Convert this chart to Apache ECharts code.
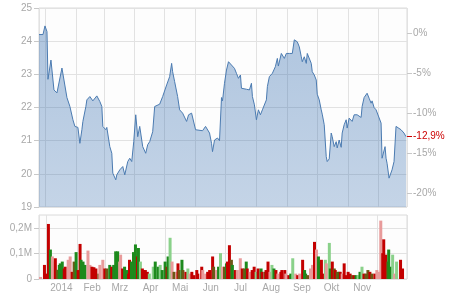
<!DOCTYPE html>
<html>
<head>
<meta charset="utf-8">
<script src="https://cdn.jsdelivr.net/npm/echarts@6/dist/echarts.min.js"></script>
<style>
html,body{margin:0;padding:0;background:#fff;}
#c{width:450px;height:300px;}
</style>
</head>
<body>
<div id="c"></div>
<script>
// ---- data ----
// day offsets from 2014-01-01 and closing prices
const priceDays = [-6,-2,0,2,3,6,9,12,17,18,22,25,28,30,33,35,37,38,41,42,45,48,52,55,57,58,61,62,65,67,68,71,72,75,78,80,83,85,87,89,91,93,95,97,98,101,103,105,108,110,112,115,118,122,125,127,128,130,133,135,138,142,144,147,148,151,153,158,161,163,165,167,168,170,172,173,175,177,178,180,182,184,187,190,192,194,196,197,199,202,203,205,207,208,210,212,214,216,218,222,223,225,228,231,233,234,237,240,242,245,247,248,250,252,253,255,257,258,260,262,263,265,267,268,270,272,273,275,277,278,280,282,283,285,287,288,290,292,293,295,297,298,300,302,303,305,307,308,310,312,313,315,317,318,320,323,325,327,328,330,332,334,337,338,339,341,342,343,345,348,350,352,353,357,360,362];
const priceValues = [24.2,24.2,24.46,24.29,22.85,23.43,22.53,22.44,23.19,23.15,22.3,22.03,21.63,21.43,21.4,20.92,21.33,21.58,22.03,22.23,22.33,22.2,22.35,22.18,22.03,21.43,21.33,21.4,20.82,20.62,20.02,19.82,19.97,20.12,20.22,19.97,20.37,20.47,20.37,20.97,21.78,21.12,21.43,21.4,20.82,20.62,20.88,20.97,21.27,22.03,22.08,22.1,22.33,22.68,22.93,23.33,23.08,22.78,22.33,21.93,21.83,21.58,21.78,21.83,21.85,21.33,21.27,21.3,21.43,21.38,21.23,20.92,20.67,21.02,20.98,21.08,21.0,22.3,22.2,22.73,23.13,23.38,23.28,23.18,23.03,22.88,22.98,22.58,22.63,22.55,22.6,22.53,22.73,22.33,22.08,21.63,21.93,21.78,21.93,22.23,22.63,22.93,23.03,23.23,23.48,23.25,23.63,23.48,23.63,23.63,23.68,23.63,24.04,23.98,23.98,23.83,23.53,23.38,23.53,23.33,23.63,23.58,23.33,23.08,22.98,22.83,22.4,22.23,21.93,21.8,21.48,20.52,20.37,20.45,21.23,21.12,20.82,20.97,20.78,21.02,20.8,21.23,21.48,21.63,21.38,21.68,21.73,21.58,21.78,21.75,21.78,21.73,21.7,22.03,22.3,22.43,22.28,22.13,22.2,22.0,21.93,21.88,21.53,20.47,20.5,20.82,20.47,20.32,19.87,20.12,20.37,21.43,21.43,21.33,21.23,21.12];
const basePrice = 24.25; // reference price for 0%

// volume: day offsets, volume in thousand pieces, kind (d=down, g=up, p=down alt, l=up alt, b=mixed)
const volDays = [-6,-2,0,2,4,6,8,9,11,13,14,16,18,19,22,24,26,28,30,32,34,35,37,39,42,44,46,48,50,53,54,57,59,61,64,66,68,70,72,74,75,77,79,81,83,84,86,88,90,92,93,95,97,98,100,102,104,108,110,113,115,117,120,122,123,125,127,129,132,133,134,137,138,141,143,145,147,149,152,153,157,158,161,163,165,168,169,172,174,176,178,180,182,183,185,187,188,191,193,196,198,200,202,203,206,208,210,212,214,217,218,221,222,224,226,228,230,232,234,237,238,241,242,245,247,249,252,254,256,259,261,262,264,267,269,271,273,275,277,278,280,282,283,286,287,289,291,292,294,296,297,299,301,303,305,307,309,311,313,315,317,319,321,323,325,327,329,332,334,336,338,340,341,343,345,346,348,350,352,354,358,360];
const volValues = [8,55,21,215,115,88,68,81,36,55,61,68,41,48,75,88,28,68,105,35,137,75,68,55,111,55,48,46,41,21,55,75,41,41,55,48,55,108,108,68,95,41,48,35,21,75,68,105,135,88,121,68,41,35,35,28,21,48,68,48,55,35,68,48,88,161,68,28,28,61,35,75,35,28,41,21,28,15,35,21,48,35,21,28,35,88,48,35,48,101,48,48,61,68,132,75,55,35,35,81,41,41,68,41,28,35,48,28,41,41,28,28,35,68,28,55,41,35,21,28,35,35,21,15,21,81,21,15,21,75,35,21,15,41,55,145,115,88,68,75,21,75,61,141,41,68,41,35,28,28,28,21,61,15,28,21,15,15,15,15,28,48,21,21,35,28,21,21,35,28,228,101,155,95,68,115,48,95,21,68,75,41];
const volKinds = ['p','d','d','d','g','p','p','d','b','g','g','g','d','d','p','p','d','b','g','d','d','g','g','g','p','p','d','d','d','b','p','p','d','b','g','d','g','g','g','p','p','d','g','g','d','d','g','g','g','d','g','l','d','d','d','d','l','l','g','g','l','g','g','d','g','l','p','b','p','d','b','g','b','d','l','p','d','d','d','d','d','p','p','d','d','d','b','p','g','l','p','b','g','d','d','b','g','d','p','p','d','b','g','d','p','d','d','l','d','g','d','b','d','d','p','l','g','d','p','d','d','d','p','d','g','l','p','d','p','d','g','g','b','p','p','d','p','g','g','d','d','l','p','l','g','d','b','d','b','g','d','p','d','d','d','d','b','d','g','l','g','l','d','b','b','d','b','d','p','p','p','d','d','d','b','g','g','l','p','l','d','d'];

// axis labels
const monthLabels = ['2014','Feb','Mrz','Apr','Mai','Jun','Jul','Aug','Sep','Okt','Nov',''];
const priceTicks = [19,20,21,22,23,24,25];
const pctTicks = [-20,-15,-10,-5,0];
const volTicks = [0,0.1,0.2];
const volMax = 0.25;

// ---- build ----
const DAY = 86400000;
const ts = d => new Date(2014, 0, 1 + d).getTime();
const minTs = new Date(2013, 11, 26).getTime();
const maxTs = new Date(2014, 11, 30).getTime();
const pct = v => (v / basePrice - 1) * 100;
const lastPct = pct(priceValues[priceValues.length - 1]);
const kindColors = {d:'#c30000', g:'#1d8a1d', p:'#e89b9b', l:'#8ad18a', b:'#6d5816'};

const priceData = priceDays.map((d, i) => [ts(d), priceValues[i]]);
const volData = volDays.map((d, i) => ({
  value: [ts(d), volValues[i] / 1000],
  itemStyle: {color: kindColors[volKinds[i]]}
}));

const FONT = 'Liberation Sans';
const GRAY = '#a8a8a8';
const GRID = '#e2e2e2';

function xAxis(gridIndex, showLabels) {
  return {
    type: 'time', gridIndex, min: minTs, max: maxTs,
    minInterval: 28 * DAY, maxInterval: 31 * DAY, splitNumber: 12,
    axisLine: {show: false}, axisTick: {show: false},
    splitLine: {show: true, lineStyle: {color: GRID, width: 1}},
    axisLabel: {
      show: showLabels, color: GRAY, fontFamily: FONT, fontSize: 10,
      margin: 4, padding: [0, 0, 0, 30], showMinLabel: false, showMaxLabel: false,
      formatter: v => { const d = new Date(v); return d.getDate() === 1 ? monthLabels[d.getMonth()] : ''; }
    }
  };
}

const chart = echarts.init(document.getElementById('c'), null, {renderer: 'canvas'});
chart.setOption({
  animation: false,
  backgroundColor: '#fff',
  grid: [
    {left: 39, right: 43, top: 8, height: 199, show: true, borderColor: '#dadada', borderWidth: 1, backgroundColor: '#fdfdfd'},
    {left: 39, right: 43, top: 215, height: 64, show: true, borderColor: '#dadada', borderWidth: 1, backgroundColor: '#fdfdfd'}
  ],
  xAxis: [xAxis(0, false), xAxis(1, true)],
  yAxis: [
    {
      type: 'value', gridIndex: 0, min: priceTicks[0], max: priceTicks[priceTicks.length - 1], interval: 1,
      position: 'left',
      axisLine: {show: false},
      axisTick: {show: true, length: 5, lineStyle: {color: '#c8c8c8'}},
      axisLabel: {color: GRAY, fontFamily: FONT, fontSize: 10, margin: 7},
      splitLine: {lineStyle: {color: GRID}}
    },
    {
      type: 'value', gridIndex: 0, min: pct(priceTicks[0]), max: pct(priceTicks[priceTicks.length - 1]),
      position: 'right',
      axisLine: {show: false},
      axisTick: {show: true, length: 5, customValues: pctTicks, lineStyle: {color: '#c8c8c8'}},
      axisLabel: {color: GRAY, fontFamily: FONT, fontSize: 10, margin: 6, customValues: pctTicks,
        formatter: v => Math.round(v) + '%'},
      splitLine: {show: false}
    },
    {
      type: 'value', gridIndex: 0, min: pct(priceTicks[0]), max: pct(priceTicks[priceTicks.length - 1]),
      position: 'right',
      axisLine: {show: false},
      axisTick: {show: true, length: 5, customValues: [lastPct], lineStyle: {color: '#cc0000'}},
      axisLabel: {color: '#cc0000', fontFamily: FONT, fontSize: 10, margin: 6, customValues: [lastPct],
        formatter: v => v.toFixed(1).replace('.', ',') + '%'},
      splitLine: {show: false}
    },
    {
      type: 'value', gridIndex: 1, min: 0, max: volMax, interval: 0.1,
      axisLine: {show: false},
      axisTick: {show: true, length: 5, customValues: volTicks, lineStyle: {color: '#c8c8c8'}},
      axisLabel: {color: GRAY, fontFamily: FONT, fontSize: 10, margin: 7, customValues: volTicks,
        formatter: v => v === 0 ? '0' : v.toFixed(1).replace('.', ',') + 'M'},
      splitLine: {show: true, lineStyle: {color: GRID}}
    }
  ],
  series: [
    {
      type: 'line', xAxisIndex: 0, yAxisIndex: 0, data: priceData,
      showSymbol: false, symbol: 'none',
      lineStyle: {color: '#4b7bb1', width: 1},
      areaStyle: {color: new echarts.graphic.LinearGradient(0, 0, 0, 1, [
        {offset: 0, color: 'rgba(40,100,170,0.52)'},
        {offset: 1, color: 'rgba(40,100,170,0.38)'}
      ])}
    },
    {
      type: 'bar', xAxisIndex: 1, yAxisIndex: 3, data: volData, barWidth: 3
    }
  ]
});
</script>
</body>
</html>
